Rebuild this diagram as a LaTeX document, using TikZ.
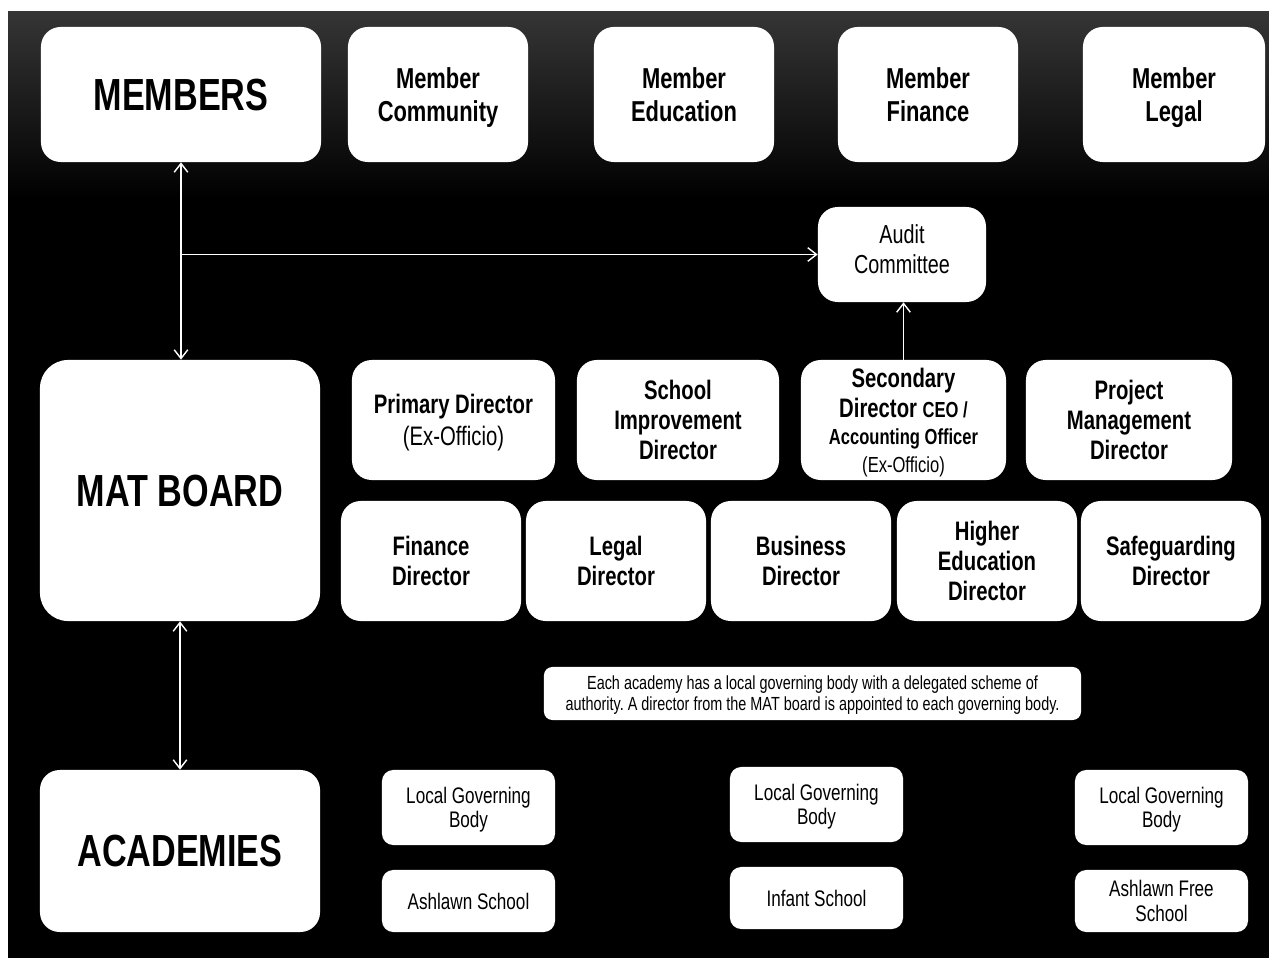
\documentclass[tikz,border=0pt]{standalone}
\usepackage{fontspec}
\setmainfont[FakeStretch=0.76]{Liberation Sans}
\usetikzlibrary{arrows.meta}
\frenchspacing
\definecolor{topgray}{RGB}{53,53,53}
\tikzset{
  box/.style={fill=white,text=black,rounded corners=14pt,align=center,inner sep=0pt,text depth=0pt},
  head/.style={box,minimum width=7cm,font=\fontsize{32}{36}\selectfont\bfseries},
  member/.style={box,minimum width=4.5cm,minimum height=3.375cm,font=\fontsize{20.5}{23.5}\selectfont\bfseries},
  director/.style={box,minimum height=3cm,font=\fontsize{19}{21.5}\selectfont\bfseries},
  smallbox/.style={box,rounded corners=8pt,minimum width=4.325cm,font=\fontsize{16}{17.5}\selectfont},
  link/.style={draw=white,line width=1pt},
}
\begin{document}
\begin{tikzpicture}[x=0.025cm,y=-0.025cm,>={Straight Barb[length=2.2mm,width=3.4mm]}]
      \useasboundingbox (0,0) rectangle (1269,958);
      \fill[white] (0,0) rectangle (1269,958);
      \shade[top color=topgray,bottom color=black] (8,12) rectangle (1269,200);
      \fill[black] (8,199) rectangle (1269,958);
      \node[head,minimum height=3.375cm] (members) at (181,94.5) {MEMBERS};
      \node[member] (memcom) at (438,94.5) {Member\\Community};
      \node[member] (memedu) at (684,94.5) {Member\\Education};
      \node[member] (memfin) at (928,94.5) {Member\\Finance};
      \node[member,minimum width=4.55cm] (memleg) at (1174,94.5) {Member\\Legal};
      \node[box,minimum width=4.2cm,minimum height=2.375cm,text depth=8pt,font=\fontsize{18.5}{21.5}\selectfont] (audit) at (902,254.5) {Audit\\Committee};
      \node[head,rounded corners=20pt,minimum height=6.525cm] (matboard) at (180,490.5) {MAT BOARD};
      \node[director,minimum width=5.075cm] (primary) at (453.5,420) {Primary Director\\[1pt]{\mdseries (Ex-Officio)}};
      \node[director,minimum width=5.05cm] (schoolimp) at (678,420) {School\\Improvement\\Director};
      \node[director,minimum width=5.125cm] (secondary) at (903.5,420) {Secondary\\Director {\fontsize{15.5}{18}\selectfont CEO /}\\[-2pt]{\fontsize{15.5}{18}\selectfont Accounting Officer}\\[-2pt]{\fontsize{15.5}{18}\selectfont\mdseries (Ex-Officio)}};
      \node[director,minimum width=5.15cm] (project) at (1129,420) {Project\\Management\\Director};
      \node[director,minimum width=4.5cm] (finance) at (431,561) {Finance\\Director};
      \node[director,minimum width=4.5cm] (legal) at (616,561) {Legal\\Director};
      \node[director,minimum width=4.5cm] (business) at (801,561) {Business\\Director};
      \node[director,minimum width=4.5cm] (higher) at (987,561) {Higher\\Education\\Director};
      \node[director,minimum width=4.5cm] (safeguard) at (1171,561) {Safeguarding\\Director};
      \node[box,rounded corners=6pt,minimum width=13.425cm,minimum height=1.325cm,font=\fontsize{13.5}{15}\selectfont] (note) at (812.5,693.5) {Each academy has a local governing body with a delegated scheme of\\authority. A director from the MAT board is appointed to each governing body.};
      \node[head,minimum height=4.05cm] (academies) at (180,851) {ACADEMIES};
      \node[smallbox,minimum height=1.875cm] (lgbone) at (468.5,807.5) {Local Governing\\Body};
      \node[smallbox,minimum height=1.55cm] (ashlawn) at (468.5,901) {Ashlawn School};
      \node[smallbox,minimum height=1.875cm] (lgbtwo) at (816.5,804.5) {Local Governing\\Body};
      \node[smallbox,minimum height=1.55cm] (infant) at (816.5,898) {Infant School};
      \node[smallbox,minimum height=1.875cm] (lgbthree) at (1161.5,807.5) {Local Governing\\Body};
      \node[smallbox,minimum height=1.55cm] (freeschool) at (1161.5,901) {Ashlawn Free\\School};
      \coordinate (split) at (members.south |- audit.west);
      \draw[link,<->] (members.south) -- (members.south |- matboard.north);
      \draw[link,->] (split) -- (audit.west);
      \draw[link,->] (secondary.north) -- (secondary.north |- audit.south);
      \draw[link,<->] (matboard.south) -- (academies.north);
    \end{tikzpicture}
\end{document}
